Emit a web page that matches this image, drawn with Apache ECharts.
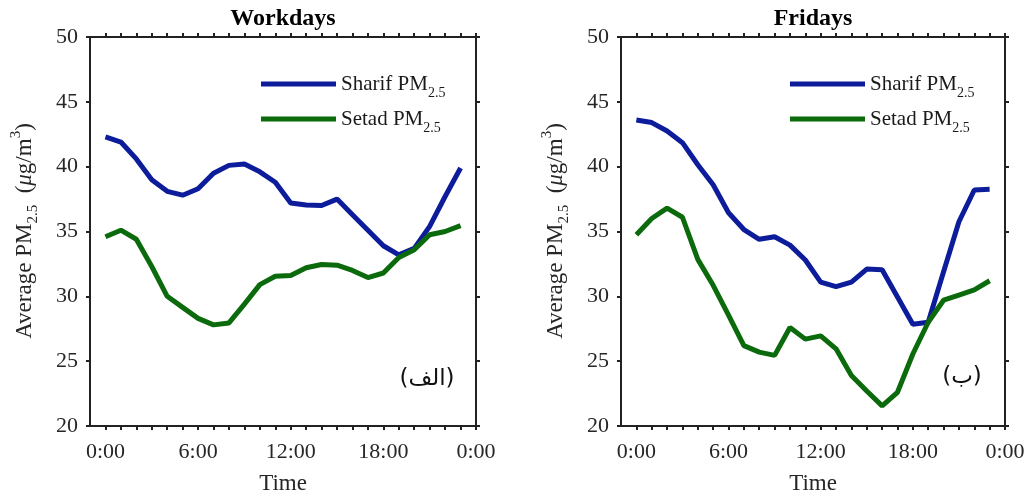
<!DOCTYPE html>
<html>
<head>
<meta charset="utf-8">
<script src="https://cdn.jsdelivr.net/npm/echarts@6/dist/echarts.min.js"></script>
<style>
  html, body { margin: 0; padding: 0; background: #fff; }
  #chart { width: 1027px; height: 496px; }
</style>
</head>
<body>
<div id="chart"></div>
<script>
// hours of the day
var hours = [0, 1, 2, 3, 4, 5, 6, 7, 8, 9, 10, 11, 12, 13, 14, 15, 16, 17, 18, 19, 20, 21, 22, 23];

// workdays
var workSharif = [42.3, 41.9, 40.6, 39.0, 38.1, 37.8, 38.3, 39.5, 40.1, 40.2, 39.6, 38.8, 37.2, 37.05, 37.0, 37.5, 36.3, 35.1, 33.9, 33.2, 33.7, 35.4, 37.7, 39.9];
var workSetad = [34.6, 35.1, 34.4, 32.3, 30.0, 29.15, 28.3, 27.8, 27.95, 29.4, 30.9, 31.55, 31.6, 32.2, 32.45, 32.4, 32.0, 31.45, 31.8, 33.0, 33.6, 34.75, 35.0, 35.45];

// fridays
var friSharif = [43.6, 43.4, 42.75, 41.85, 40.15, 38.6, 36.45, 35.15, 34.4, 34.6, 33.95, 32.8, 31.1, 30.75, 31.1, 32.1, 32.05, 29.95, 27.85, 28.0, 31.9, 35.75, 38.2, 38.25];
var friSetad = [34.75, 36.0, 36.8, 36.1, 32.85, 30.85, 28.55, 26.2, 25.7, 25.45, 27.6, 26.7, 26.95, 25.95, 23.9, 22.7, 21.55, 22.6, 25.55, 28.0, 29.7, 30.1, 30.5, 31.2];

var xTicks = [0, 1, 2, 3, 4, 5, 6, 7, 8, 9, 10, 11, 12, 13, 14, 15, 16, 17, 18, 19, 20, 21, 22, 23, 24];
var xLabels = [0, 6, 12, 18, 24];
var names = ['Sharif', 'Setad'];

var blue = '#0c1c9a';
var green = '#0b6a0b';
var axisColor = '#222';
var textColor = '#262626';
var serif = '"Liberation Serif", "DejaVu Serif", serif';

function pairs(vals) {
  return hours.map(function (h, i) { return [h, vals[i]]; });
}

function xAxisFor(grid, pos) {
  var main = pos === 'bottom';
  return {
    gridIndex: grid, type: 'value', position: pos,
    min: -1, max: 24,
    axisLine: { onZero: false, lineStyle: { color: axisColor, width: 2 } },
    axisTick: { show: true, customValues: xTicks, length: 4, lineStyle: { color: axisColor, width: 2 } },
    axisLabel: {
      show: main, customValues: xLabels, margin: 15,
      fontFamily: serif, fontSize: 22, color: textColor,
      formatter: function (v) { return (v % 24) + ':00'; }
    },
    splitLine: { show: false },
    name: main ? 'Time' : '',
    nameLocation: 'middle', nameGap: 46,
    nameTextStyle: { fontFamily: serif, fontSize: 23, color: textColor }
  };
}

function yAxisFor(grid, pos) {
  return {
    gridIndex: grid, type: 'value', position: pos,
    min: 20, max: 50, interval: 5,
    axisLine: { show: true, onZero: false, lineStyle: { color: axisColor, width: 2 } },
    axisTick: { show: true, length: 4, lineStyle: { color: axisColor, width: 2 } },
    axisLabel: { show: pos === 'left', margin: 12, fontFamily: serif, fontSize: 22, color: textColor },
    splitLine: { show: false }
  };
}

function legendFor(left) {
  return {
    orient: 'vertical', left: left, top: 63,
    data: names,
    itemWidth: 75, itemHeight: 5, itemGap: 3,
    icon: 'rect',
    selectedMode: false,
    formatter: function (n) { return n + ' PM{sub|2.5}'; },
    textStyle: {
      fontFamily: serif, fontSize: 21, color: '#1a1a1a', lineHeight: 32,
      rich: { sub: { fontFamily: serif, fontSize: 14, lineHeight: 11, verticalAlign: 'bottom', color: '#1a1a1a' } }
    }
  };
}

function yName(x) {
  return {
    type: 'text', x: x, y: 231, rotation: Math.PI / 2,
    style: {
      text: 'Average PM{sub|2.5}  ({mu|μ}g/m{sup|3})',
      textAlign: 'center', textVerticalAlign: 'middle',
      fontFamily: serif, fontSize: 23, fill: textColor, lineHeight: 32,
      rich: {
        sub: { fontFamily: serif, fontSize: 15, lineHeight: 14, verticalAlign: 'bottom', fill: textColor },
        sup: { fontFamily: serif, fontSize: 15, lineHeight: 15, verticalAlign: 'top', fill: textColor },
        mu: { fontFamily: serif, fontSize: 23, fontStyle: 'italic', fill: textColor }
      }
    }
  };
}

function title(x, text) {
  return {
    type: 'text', x: x, y: 19,
    style: { text: text, textAlign: 'center', textVerticalAlign: 'middle', fontFamily: serif, fontWeight: 'bold', fontSize: 24, fill: '#000' }
  };
}

function tag(x, y, text) {
  return {
    type: 'text', x: x, y: y,
    style: { text: text, textAlign: 'center', textVerticalAlign: 'middle', fontFamily: '"DejaVu Sans", "Noto Sans", sans-serif', fontSize: 23, fill: '#111' }
  };
}

var chart = echarts.init(document.getElementById('chart'));
chart.setOption({
  animation: false,
  backgroundColor: '#fff',
  grid: [
    { left: 90, top: 37, width: 386, height: 389, outerBoundsMode: 'none' },
    { left: 621, top: 37, width: 384, height: 389, outerBoundsMode: 'none' }
  ],
  xAxis: [xAxisFor(0, 'bottom'), xAxisFor(0, 'top'), xAxisFor(1, 'bottom'), xAxisFor(1, 'top')],
  yAxis: [yAxisFor(0, 'left'), yAxisFor(0, 'right'), yAxisFor(1, 'left'), yAxisFor(1, 'right')],
  legend: [legendFor(256), legendFor(785)],
  series: [
    { name: 'Sharif', type: 'line', xAxisIndex: 0, yAxisIndex: 0, data: pairs(workSharif), showSymbol: false, color: blue, lineStyle: { width: 5 } },
    { name: 'Setad', type: 'line', xAxisIndex: 0, yAxisIndex: 0, data: pairs(workSetad), showSymbol: false, color: green, lineStyle: { width: 5 } },
    { name: 'Sharif', type: 'line', xAxisIndex: 2, yAxisIndex: 2, data: pairs(friSharif), showSymbol: false, color: blue, lineStyle: { width: 5 } },
    { name: 'Setad', type: 'line', xAxisIndex: 2, yAxisIndex: 2, data: pairs(friSetad), showSymbol: false, color: green, lineStyle: { width: 5 } }
  ],
  graphic: [
    title(283, 'Workdays'),
    title(813, 'Fridays'),
    yName(25),
    yName(556),
    tag(427, 379, '(الف)'),
    tag(962, 377, '(ب)')
  ]
});
</script>
</body>
</html>
